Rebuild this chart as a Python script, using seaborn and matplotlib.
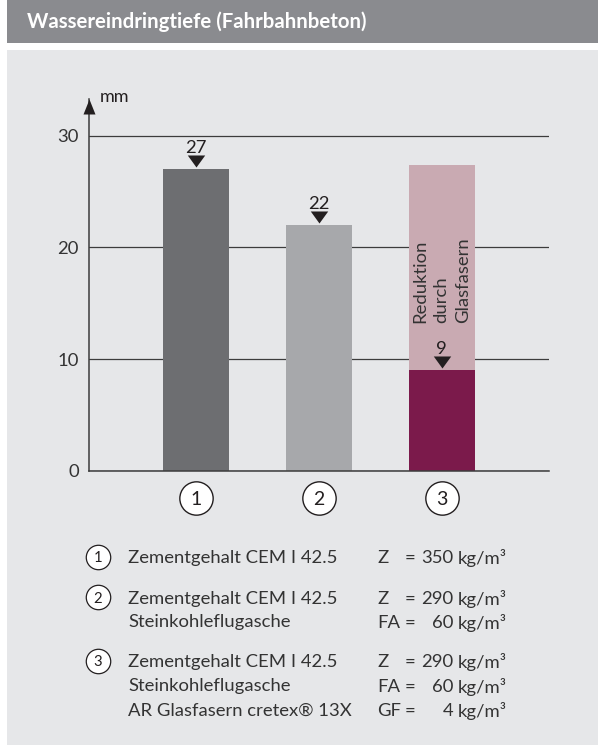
import numpy as np
import matplotlib
matplotlib.use("Agg")
import matplotlib.pyplot as plt
import seaborn as sns
from matplotlib.path import Path
from matplotlib.patches import Rectangle
from matplotlib.transforms import offset_copy

# ---- data -------------------------------------------------------------
categories = ["1", "2", "3"]
depth_mm = [27, 22, 9]                  # measured penetration depth
depth_without_fibres = 27.4             # mix 3 without the glass-fibre reduction
y_ticks = [0, 10, 20, 30]
unit_label = "mm"
title = "Wassereindringtiefe (Fahrbahnbeton)"
reduction_label = "Reduktion\ndurch\nGlasfasern"

legend_numbers = ["1", "2", "3"]
legend_materials = [
    ["Zementgehalt CEM I 42.5"],
    ["Zementgehalt CEM I 42.5", "Steinkohleflugasche"],
    ["Zementgehalt CEM I 42.5", "Steinkohleflugasche", "AR Glasfasern cretex® 13X"],
]
legend_symbols = [["Z"], ["Z", "FA"], ["Z", "FA", "GF"]]
legend_amounts = [["350"], ["290", "60"], ["290", "60", "4"]]
amount_unit = "kg/m³"

# ---- style ------------------------------------------------------------
sns.set_theme(style="white")
plt.rcParams["font.family"] = ["Lato", "DejaVu Sans"]

C_DARK = "#6d6e71"
C_LIGHT = "#a7a8ab"
C_PINK = "#c9aab2"
C_PURPLE = "#7b1a4b"
C_INK = "#231f20"
C_TEXT = "#333333"
C_LINE = "#3c3c3c"
C_PANEL = "#e6e7e9"
C_HEADER = "#8a8b8f"
FS = 13.3

W, H = 598, 745
fig = plt.figure(figsize=(W / 100, H / 100), dpi=100, facecolor="white")

# background layer in pixel coordinates
bg = fig.add_axes([0, 0, 1, 1], zorder=0)
bg.set_xlim(0, W)
bg.set_ylim(H, 0)
bg.axis("off")
bg.add_patch(Rectangle((7, 0), W - 7, 43, facecolor=C_HEADER, edgecolor="none"))
bg.add_patch(Rectangle((7, 50), W - 7, H - 50, facecolor=C_PANEL, edgecolor="none"))
bg.text(27, 22, title, color="white", fontsize=14.7, fontweight="bold",
        va="center", ha="left")

# ---- chart axes -------------------------------------------------------
L, R, B, T = 88.7, 549.0, 470.7, 99.0
ax = fig.add_axes([L / W, 1 - B / H, (R - L) / W, (B - T) / H], zorder=1)
ax.set_facecolor("none")

bar_w = 0.534
# back layer: depth of mix 3 without fibres
sns.barplot(x=["3"], y=[depth_without_fibres], order=categories, color=C_PINK,
            saturation=1, width=bar_w, linewidth=0, ax=ax, zorder=2)
# measured depths
sns.barplot(x=categories, y=depth_mm, hue=categories, order=categories,
            palette=[C_DARK, C_LIGHT, C_PURPLE], saturation=1, width=bar_w,
            linewidth=0, legend=False, ax=ax, zorder=3)

ax.set_xlim(-0.870, 2.872)
ax.set_ylim(0, 33.3)
ax.set_yticks(y_ticks)
ax.set_yticklabels([str(t) for t in y_ticks], fontsize=FS, color=C_TEXT)
ax.tick_params(axis="y", length=0, pad=7)
ax.set_xticks([])
ax.set_xlabel("")
ax.set_ylabel("")
ax.set_axisbelow(True)
ax.yaxis.grid(True, color=C_LINE, linewidth=0.9)
for s in ("top", "right"):
    ax.spines[s].set_visible(False)
for s in ("left", "bottom"):
    ax.spines[s].set_color(C_LINE)
    ax.spines[s].set_linewidth(1.1)
    ax.spines[s].set_zorder(4)

# arrow head on the y axis
arrow = Path([(-0.4, -1.0), (0.4, -1.0), (0.0, 0.0), (-0.4, -1.0)])
ax.scatter([0], [1], marker=arrow, s=21.6 ** 2, color=C_INK, linewidths=0,
           transform=ax.transAxes, clip_on=False, zorder=5)
ax.text(0, 1, unit_label,
        transform=offset_copy(ax.transAxes, fig, x=100 - L, y=2, units="dots"),
        fontsize=13, color=C_INK, ha="left", va="center")

# value markers: downward triangles with their tip just above the bar top
pointer = Path([(-0.725, 1.0), (0.725, 1.0), (0.0, 0.0), (-0.725, 1.0)])
xpos = np.arange(len(categories))
tip_tr = offset_copy(ax.transData, fig, x=0, y=2, units="dots")
ax.scatter(xpos, depth_mm, marker=pointer, s=17.3 ** 2, color=C_INK,
           linewidths=0, zorder=6, clip_on=False, transform=tip_tr)
lab_tr = offset_copy(ax.transData, fig, x=0, y=16, units="dots")
for x, v in zip(xpos, depth_mm):
    ax.text(x, v, f"{v:g}", transform=lab_tr, ha="center", va="baseline",
            fontsize=FS, color=C_INK, zorder=6)

ax.text(2, 13.2, reduction_label, rotation=90, ha="center", va="bottom",
        multialignment="left", fontsize=FS, color=C_TEXT, linespacing=1.45,
        zorder=6)

# circled category numbers under the bars
circ_tr = offset_copy(ax.transData, fig, x=0, y=-27.6, units="dots")
ax.scatter(xpos, [0] * len(xpos), marker="o", s=24 ** 2, facecolor="white",
           edgecolor=C_INK, linewidths=1.0, transform=circ_tr, clip_on=False, zorder=6)
for x, c in zip(xpos, categories):
    ax.text(x, 0, c, transform=circ_tr, ha="center", va="center_baseline",
            fontsize=14, color=C_INK, zorder=7)

# ---- mix legend -------------------------------------------------------
row_y = [[556.7], [597.3, 621.0], [660.7, 685.0, 709.0]]
for num, mats, syms, amts, ys in zip(legend_numbers, legend_materials,
                                     legend_symbols, legend_amounts, row_y):
    bg.scatter([97.8], [ys[0]], marker="o", s=17.6 ** 2, facecolor="white",
               edgecolor=C_INK, linewidths=0.9, zorder=3)
    bg.text(97.8, ys[0], num, ha="center", va="center_baseline", fontsize=10.7,
            color=C_INK, zorder=4)
    for m, sym, a, y in zip(mats, syms, amts, ys):
        kw = dict(va="center_baseline", fontsize=FS, color=C_TEXT)
        bg.text(128, y, m, ha="left", **kw)
        bg.text(377, y, sym, ha="left", **kw)
        bg.text(405, y, "=", ha="left", **kw)
        bg.text(453, y, a, ha="right", **kw)
        bg.text(458, y, amount_unit, ha="left", **kw)

fig.savefig("out.png", dpi=100, facecolor="white")
